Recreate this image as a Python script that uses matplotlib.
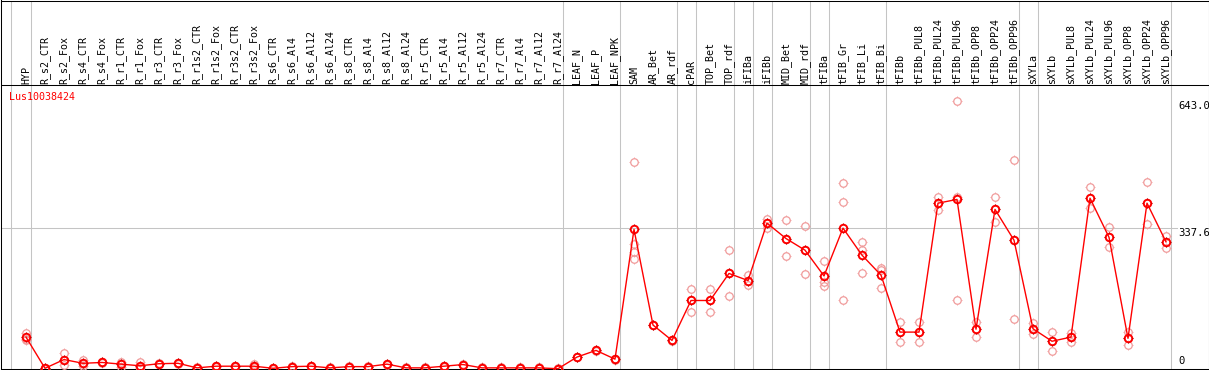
import numpy as np
import matplotlib
matplotlib.use('Agg')
import matplotlib.pyplot as plt
from matplotlib.path import Path
from matplotlib.markers import MarkerStyle

gene = 'Lus10038424'

labels = ['HYP', 'R_s2_CTR', 'R_s2_Fox', 'R_s4_CTR', 'R_s4_Fox', 'R_r1_CTR',
          'R_r1_Fox', 'R_r3_CTR', 'R_r3_Fox', 'R_r1s2_CTR', 'R_r1s2_Fox',
          'R_r3s2_CTR', 'R_r3s2_Fox', 'R_s6_CTR', 'R_s6_Al4', 'R_s6_Al12',
          'R_s6_Al24', 'R_s8_CTR', 'R_s8_Al4', 'R_s8_Al12', 'R_s8_Al24',
          'R_r5_CTR', 'R_r5_Al4', 'R_r5_Al12', 'R_r5_Al24', 'R_r7_CTR',
          'R_r7_Al4', 'R_r7_Al12', 'R_r7_Al24', 'LEAF_N', 'LEAF_P', 'LEAF_NPK',
          'SAM', 'AR_Bet', 'AR_rdf', 'cPAR', 'TOP_Bet', 'TOP_rdf', 'iFIBa',
          'iFIBb', 'MID_Bet', 'MID_rdf', 'tFIBa', 'tFIB_Gr', 'tFIB_Li',
          'tFIB_Bi', 'tFIBb', 'tFIBb_PUL8', 'tFIBb_PUL24', 'tFIBb_PUL96',
          'tFIBb_OPP8', 'tFIBb_OPP24', 'tFIBb_OPP96', 'sXYLa', 'sXYLb',
          'sXYLb_PUL8', 'sXYLb_PUL24', 'sXYLb_PUL96', 'sXYLb_OPP8',
          'sXYLb_OPP24', 'sXYLb_OPP96']

# mean expression per sample
means = [76, 1, 22, 13, 15, 11, 7, 12, 13, 2, 6, 6, 6, 1, 5, 6, 2, 5, 5, 11,
         2, 2, 6, 10, 2, 2, 2, 2, 0, 28, 44, 23, 335, 105, 68, 164, 164, 229,
         212, 350, 313, 285, 223, 338, 273, 225, 88, 88, 398, 407, 95, 383,
         309, 96, 66, 76, 410, 316, 73, 398, 305]

# replicate values per sample
reps = [[87, 72, 70], [0, 2, 1], [38, 9, 20], [22, 6, 12], [17, 14, 15],
        [17, 4, 12], [16, 2, 4], [12, 13, 11], [13, 14, 12], [2, 3, 1],
        [6, 7, 5], [6, 7, 5], [11, 3, 4], [1, 0, 2], [5, 4, 6], [6, 5, 7],
        [2, 1, 3], [5, 4, 6], [5, 4, 6], [11, 10, 12], [2, 1, 3], [2, 1, 3],
        [6, 5, 7], [10, 9, 11], [2, 1, 3], [2, 1, 3], [2, 1, 3], [2, 1, 3],
        [0, 0, 1], [28, 27, 29], [44, 43, 45], [23, 22, 24],
        [497, 301, 280, 263], [105, 104, 106], [68, 67, 69], [192, 137, 164],
        [192, 136, 164], [285, 175, 229], [225, 201, 212], [360, 338, 350],
        [357, 270, 313], [342, 227, 285], [259, 209, 198], [446, 402, 165],
        [305, 286, 229], [243, 237, 195], [112, 64, 88], [112, 65, 88],
        [413, 381, 398], [643, 165, 413], [112, 77, 95], [414, 353, 383],
        [501, 119, 309], [111, 84, 96], [88, 43, 66], [86, 64, 76],
        [436, 386, 410], [340, 293, 316], [88, 58, 73], [448, 348, 398],
        [319, 291, 305]]

y_ticks = [0, 337.6, 643.0]

# pixel layout helpers
W, H = 1209, 370
PX0, K = 368.7, 0.4159          # y pixel of value 0, pixels per unit
X0, DX = 26, 19                 # x pixel of first sample, spacing


def vy(py):
    return (PX0 - py) / K


def ix(px):
    return (px - X0) / DX


seps = [-0.8, 0.24, 28.24, 31.24, 34.24, 35.24, 37.24, 38.24, 39.24, 41.24,
        42.24, 45.24, 52.24, 53.24, 60.25]

# just the four small ticks around each circle
verts, codes = [], []
for dx, dy in [(0, 1), (0, -1), (1, 0), (-1, 0)]:
    verts += [[dx * 0.8, dy * 0.8], [dx, dy]]
    codes += [Path.MOVETO, Path.LINETO]
ticks = MarkerStyle(Path(np.array(verts, float), codes))

fig = plt.figure(figsize=(W / 100, H / 100), dpi=100)
ax = fig.add_axes([0.5 / W, 1.5 / H, 1208 / W, 368 / H])
ax.set_xlim(ix(0.5), ix(1208.5))
ax.set_ylim(vy(368.5), vy(0.5))
ax.set_xticks([])
ax.set_yticks([])
for s in ax.spines.values():
    s.set_linewidth(0.75)
    s.set_color('black')

grey = '#c4c4c4'
for s in seps:
    ax.axvline(s, color=grey, lw=0.75, zorder=1)
ax.plot([ix(0.5), ix(1177)], [y_ticks[1], y_ticks[1]], color=grey, lw=0.75,
        zorder=1)
ax.axhline(vy(85), color='black', lw=0.75, zorder=2)

mono = 'DejaVu Sans Mono'
fs = 7.2
x = np.arange(len(labels))
for i, lab in enumerate(labels):
    ax.text(i, vy(83.5), lab, rotation=90, ha='center', va='bottom',
            fontsize=fs, family=mono)

ax.text(ix(9.5), vy(97), gene, color='red', ha='left', va='center',
        fontsize=fs, family=mono)

ax.text(ix(1178), vy(106.5), '%.1f' % y_ticks[2], ha='left', va='center',
        fontsize=7.6, family=mono)
ax.text(ix(1178), vy(232.5), '%.1f' % y_ticks[1], ha='left', va='center',
        fontsize=7.6, family=mono)
ax.text(ix(1178), vy(361.5), '%d' % y_ticks[0], ha='left', va='center',
        fontsize=7.6, family=mono)

pink = '#f09a9a'
for i, r in enumerate(reps):
    xs = [i] * len(r)
    ax.plot(xs, r, linestyle='none', marker='o', ms=5.4, mfc='none',
            mec=pink, mew=0.9, zorder=3, clip_on=False)
    ax.plot(xs, r, linestyle='none', marker=ticks, ms=7.8, mec=pink,
            mew=0.6, zorder=3, clip_on=False)

ax.plot(x, means, color='red', lw=1.0, zorder=4, clip_on=False)
ax.plot(x, means, linestyle='none', marker='o', ms=5.4, mfc='none',
        mec='red', mew=1.4, zorder=5, clip_on=False)
ax.plot(x, means, linestyle='none', marker=ticks, ms=7.8, mec='#b00000',
        mew=0.7, zorder=5, clip_on=False)

fig.savefig('out.png', dpi=100)
